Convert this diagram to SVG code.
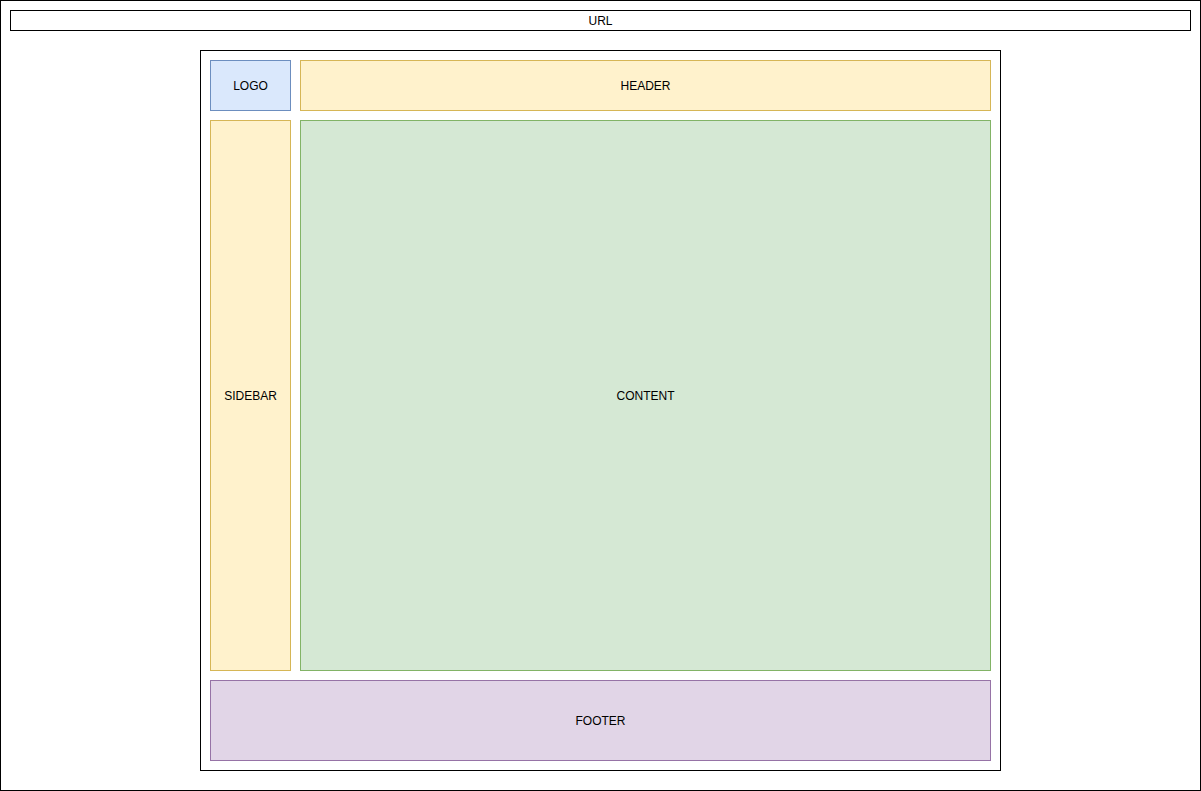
<svg xmlns="http://www.w3.org/2000/svg" width="1201" height="791" viewBox="0 0 1201 791">
<style>
rect{stroke-width:1}
.plain{fill:#ffffff;stroke:#000000}
.blue{fill:#dae8fc;stroke:#6c8ebf}
.yellow{fill:#fff2cc;stroke:#d6b656}
.green{fill:#d5e8d4;stroke:#82b366}
.purple{fill:#e1d5e7;stroke:#9673a6}
text{font-family:"Liberation Sans",Arial,sans-serif;font-size:12px;fill:#000000;text-anchor:middle;dominant-baseline:central}
</style>
<rect width="1201" height="791" fill="#ffffff"/>
<g id="page"><rect class="plain" x="0.5" y="0.5" width="1200" height="790"/></g>
<g id="url"><rect class="plain" x="10.5" y="10.5" width="1180" height="20"/><text x="600.5" y="20.5">URL</text></g>
<g id="frame"><rect class="plain" x="200.5" y="50.5" width="800" height="720"/></g>
<g id="logo"><rect class="blue" x="210.5" y="60.5" width="80" height="50"/><text x="250.5" y="85.5">LOGO</text></g>
<g id="header"><rect class="yellow" x="300.5" y="60.5" width="690" height="50"/><text x="645.5" y="85.5">HEADER</text></g>
<g id="sidebar"><rect class="yellow" x="210.5" y="120.5" width="80" height="550"/><text x="250.5" y="395.5">SIDEBAR</text></g>
<g id="content"><rect class="green" x="300.5" y="120.5" width="690" height="550"/><text x="645.5" y="395.5">CONTENT</text></g>
<g id="footer"><rect class="purple" x="210.5" y="680.5" width="780" height="80"/><text x="600.5" y="720.5">FOOTER</text></g>
<g id="connectors"/>
</svg>
